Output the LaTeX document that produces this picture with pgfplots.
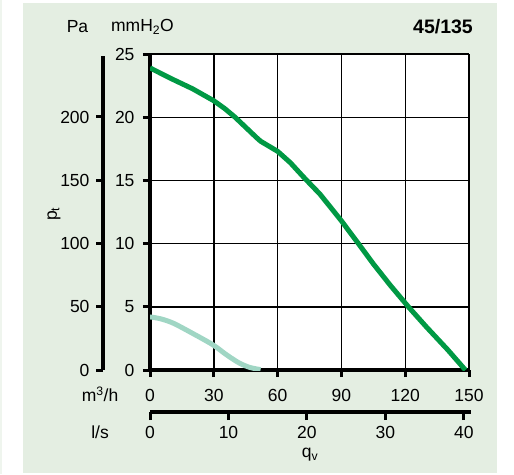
\documentclass[border=0pt]{standalone}
\usepackage{pgfplots}
\pgfplotsset{compat=1.18}
\usepackage{fontspec}
\setmainfont{Liberation Sans}
\definecolor{bg}{RGB}{228,238,226}
\definecolor{dg}{RGB}{0,153,68}
\definecolor{lg}{RGB}{160,214,196}
\newcommand{\fs}{\fontsize{17.5}{20}\selectfont}
\begin{document}
\begin{tikzpicture}
\path (0pt,0pt) rectangle (514pt,-474pt);
\fill[bg] (23pt,-3pt) rectangle (497pt,-473pt);
\fill[bg!60] (0pt,0pt) rectangle (1.5pt,-474pt);

% Pa axis
\begin{axis}[at={(103pt,-370pt)}, anchor=south west, scale only axis,
  width=10pt, height=314pt, xmin=0, xmax=1, ymin=0, ymax=248.2,
  hide x axis, axis y line*=left, ytick={0,50,...,200},
  axis line style={black, line width=3.2pt},
  tick align=outside, major tick length=7pt,
  tick style={black, line width=3pt},
  ticklabel style={font=\fs},
  yticklabel style={xshift=-3pt},
  /pgf/number format/assume math mode=true]
\addplot[draw=none] coordinates {(0,0)};
\end{axis}

% l/s axis
\begin{axis}[at={(150pt,-412pt)}, anchor=south west, scale only axis,
  width=321pt, height=10pt, xmin=0, xmax=40.9, ymin=0, ymax=1,
  hide y axis, axis x line*=bottom, xtick={0,10,...,40},
  axis line style={black, line width=3.2pt},
  tick align=outside, major tick length=8pt,
  tick style={black, line width=3pt},
  ticklabel style={font=\fs},
  xticklabel style={yshift=-3pt},
  /pgf/number format/assume math mode=true]
\addplot[draw=none] coordinates {(0,0)};
\end{axis}

% main axis
\begin{axis}[at={(150pt,-370pt)}, anchor=south west, scale only axis,
  width=319pt, height=316pt,
  xmin=0, xmax=150, ymin=0, ymax=25,
  axis background/.style={fill=white},
  xtick={0,30,...,150}, ytick={0,5,...,25},
  grid=major, grid style={black, line width=1.4pt},
  axis x line*=bottom, axis y line*=left,
  axis line style={black, line width=3.2pt},
  tick align=outside, major tick length=7pt,
  tick style={black, line width=3pt},
  ticklabel style={font=\fs},
  xticklabel style={yshift=-9pt},
  yticklabel style={xshift=-5pt},
  /pgf/number format/assume math mode=true]
\addplot[lg, line width=5pt, smooth] coordinates {
(0,4.2) (5,4.05) (11,3.7) (20,2.9) (29.5,2.0) (36,1.2) (42,0.55) (47,0.2) (52,0.03)};
\addplot[dg, line width=5pt] coordinates {
(0,23.9) (10,23.05) (20,22.25) (30,21.3) (35,20.7) (40,20.0) (45,19.2) (50,18.4) (52,18.1) (55,17.8) (60,17.3) (66,16.4) (72,15.3) (80,13.9) (90,11.8) (98,10.0) (105,8.4) (113,6.7) (121.5,5.0) (130,3.4) (140,1.6) (148.3,0)};
\end{axis}

\node[font=\fs] at (77.5pt,-27pt) {Pa};
\node[font=\fs] at (142.5pt,-27pt) {mmH\textsubscript{2}O};
\node[font=\fontsize{19.5}{22}\selectfont\bfseries] at (443pt,-27pt) {45/135};
\node[font=\fs] at (100pt,-394pt) {m\textsuperscript{3}/h};
\node[font=\fs] at (100pt,-432.5pt) {l/s};
\node[font=\fs] at (310pt,-455pt) {q\textsubscript{v}};
\node[font=\fs, rotate=90] at (54pt,-214pt) {p\textsubscript{t}};
\end{tikzpicture}
\end{document}
